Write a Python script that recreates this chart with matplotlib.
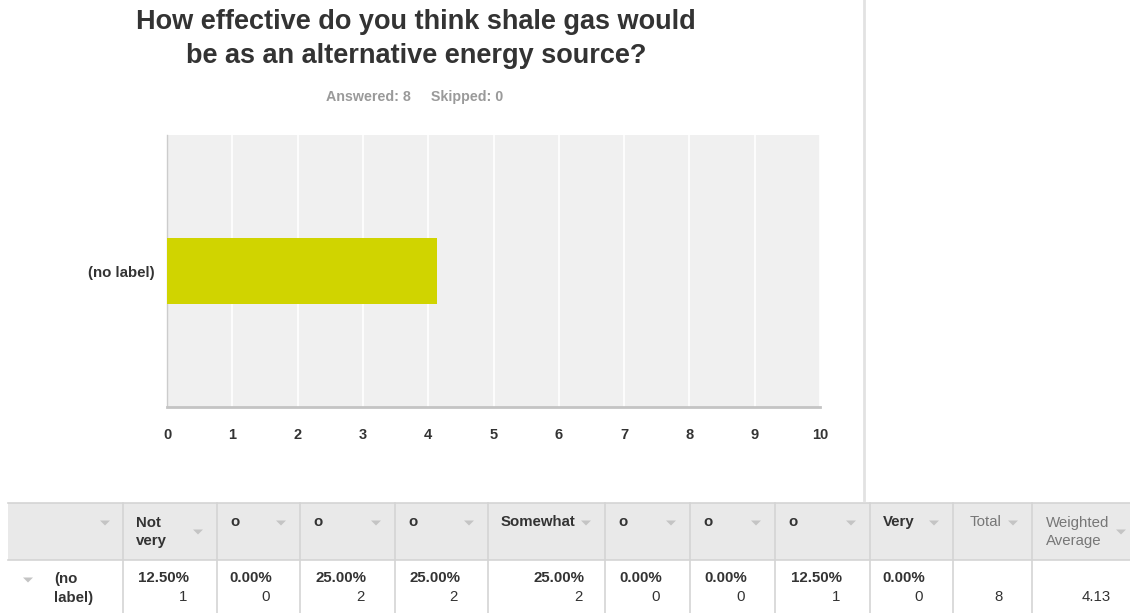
import matplotlib
matplotlib.use("Agg")
import matplotlib.pyplot as plt
from matplotlib.patches import Rectangle, Polygon
from matplotlib.lines import Line2D
from matplotlib import font_manager as fm

# ---- data ----
title = "How effective do you think shale gas would\nbe as an alternative energy source?"
answered = 8
skipped = 0
row_label = "(no label)"
weighted_average = 4.13
x_ticks = [0, 1, 2, 3, 4, 5, 6, 7, 8, 9, 10]
col_headers = ["Not\nvery", "o", "o", "o", "Somewhat", "o", "o", "o", "Very"]
percents = ["12.50%", "0.00%", "25.00%", "25.00%", "25.00%", "0.00%", "0.00%", "12.50%", "0.00%"]
counts = [1, 0, 2, 2, 2, 0, 0, 1, 0]
total = 8


def pick_font(bold):
    cands = []
    for f in fm.fontManager.ttflist:
        if f.name == "Liberation Sans" and "Narrow" not in f.fname and f.style == "normal":
            w = f.weight if isinstance(f.weight, int) else (700 if f.weight == "bold" else 400)
            if (w >= 600) == bold:
                cands.append(f.fname)
    return cands[0] if cands else None


REG = pick_font(False)
BOLD = pick_font(True)


def fp(bold, size):
    path = BOLD if bold else REG
    if path:
        return fm.FontProperties(fname=path, size=size)
    return fm.FontProperties(family="DejaVu Sans", weight="bold" if bold else "normal", size=size)


W, H = 1130, 613
fig = plt.figure(figsize=(W / 100, H / 100), dpi=100)
fig.patch.set_facecolor("white")


def fx(px):
    return px / W


def fy(py):
    return 1 - py / H


DARK = "#333333"
TS = 10.8  # table font size
LS = 1.38  # table line spacing

# ---- title ----
fig.text(fx(416), fy(39), title, ha="center", va="center", fontproperties=fp(True, 19.5),
         color=DARK, linespacing=1.38)
fig.text(fx(415), fy(97), f"Answered: {answered}     Skipped: {skipped}", ha="center",
         va="center", fontproperties=fp(True, 10.3), color="#9a9a9a")

# ---- chart ----
ax = fig.add_axes([fx(167), fy(407), fx(820) - fx(167), (407 - 135) / H])
ax.set_facecolor("#f0f0f0")
ax.barh([0], [weighted_average], height=0.49, color="#d0d400", zorder=3)
ax.set_xlim(0, 10)
ax.set_ylim(-1, 1)
ax.set_xticks(x_ticks)
ax.set_xticklabels([str(t) for t in x_ticks], fontproperties=fp(True, 10.5), color=DARK)
ax.set_yticks([0])
ax.set_yticklabels([row_label], fontproperties=fp(True, 10.8), color=DARK)
ax.tick_params(axis="x", length=0, pad=15)
ax.tick_params(axis="y", length=0, pad=9)
ax.grid(axis="x", color="white", linewidth=1.2, zorder=1)
for s in ["top", "right"]:
    ax.spines[s].set_visible(False)
ax.spines["left"].set_color("#cccccc")
ax.spines["left"].set_linewidth(1)
ax.spines["bottom"].set_color("#c4c4c4")
ax.spines["bottom"].set_linewidth(2)

# divider line
fig.add_artist(Line2D([fx(864), fx(864)], [fy(0), fy(500)], color="#e2e2e2", linewidth=2))

# ---- table ----
col_edges = [8, 123, 217, 300, 395, 488, 605, 690, 775, 870, 953, 1032, 1130]
top, mid, bot = 503, 560, 613
border = "#d4d4d4"
tri_color = "#c4c4c4"

fig.add_artist(Rectangle((fx(col_edges[0]), fy(mid)), fx(col_edges[-1]) - fx(col_edges[0]),
                         (mid - top) / H, facecolor="#e9e9e9", edgecolor="none"))
for yy in [top, mid]:
    fig.add_artist(Line2D([fx(col_edges[0]), fx(col_edges[-1])], [fy(yy), fy(yy)],
                          color=border, linewidth=1.2))
for xx in col_edges[1:-1]:
    fig.add_artist(Line2D([fx(xx), fx(xx)], [fy(top), fy(bot)], color=border, linewidth=1.2))


def tri(px, py):
    pts = [(fx(px - 5), fy(py - 2.5)), (fx(px + 5), fy(py - 2.5)), (fx(px), fy(py + 2.5))]
    fig.add_artist(Polygon(pts, closed=True, facecolor=tri_color, edgecolor="none"))


# first column
tri(105, 523)
tri(28, 580)
fig.text(fx(54), fy(588.5), "(no\nlabel)", ha="left", va="center", fontproperties=fp(True, TS),
         color=DARK, linespacing=LS, multialignment="left")

for i, (h, p, c) in enumerate(zip(col_headers, percents, counts)):
    left = col_edges[i + 1]
    right = col_edges[i + 2]
    two = "\n" in h
    hy = 532 if two else 522
    fig.text(fx(left + 13), fy(hy), h, ha="left", va="center", fontproperties=fp(True, TS),
             color=DARK, linespacing=LS, multialignment="left")
    tri(right - 19, 532 if two else 523)
    rx = right - (20 if right - left > 100 else 28)
    fig.text(fx(rx), fy(578), p, ha="right", va="center", fontproperties=fp(True, TS),
             color=DARK)
    fig.text(fx(rx - 2), fy(597), str(c), ha="right", va="center", fontproperties=fp(False, TS),
             color=DARK)

# total column
fig.text(fx(970), fy(522), "Total", ha="left", va="center", fontproperties=fp(False, TS),
         color="#777777")
tri(1013, 523)
fig.text(fx(1003), fy(597), str(total), ha="right", va="center", fontproperties=fp(False, TS),
         color=DARK)

# weighted average column
fig.text(fx(1046), fy(532), "Weighted\nAverage", ha="left", va="center",
         fontproperties=fp(False, TS), color="#777777", linespacing=LS, multialignment="left")
tri(1121, 532)
fig.text(fx(1111), fy(597), f"{weighted_average:.2f}", ha="right", va="center",
         fontproperties=fp(False, TS), color=DARK)

fig.savefig("out.png", dpi=100, facecolor="white")
